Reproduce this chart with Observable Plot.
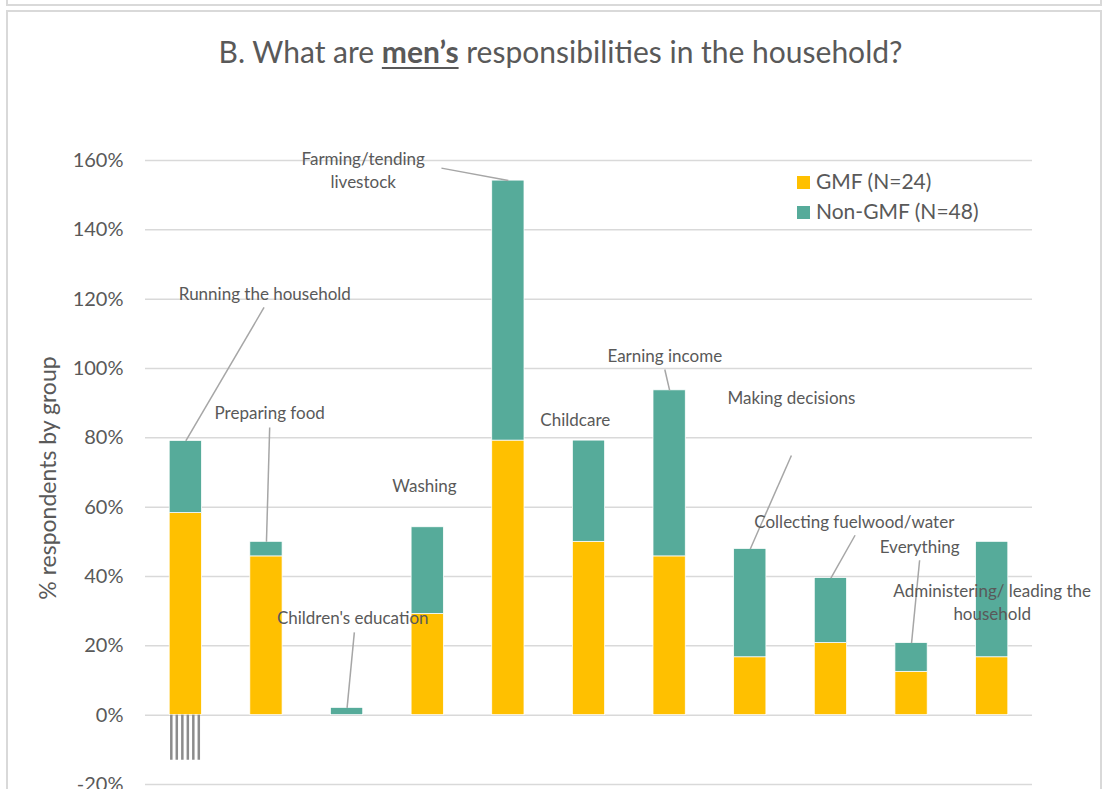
<!DOCTYPE html>
<html><head><meta charset="utf-8">
<script src="https://cdn.jsdelivr.net/npm/d3@7"></script>
<script src="https://cdn.jsdelivr.net/npm/@observablehq/plot@0.6"></script>
<style>
body{margin:0;background:#fff;font-family:Lato,"Open Sans",sans-serif;}
#wrap{position:relative;width:1103px;height:789px;overflow:hidden;background:#fff;}
.box{position:absolute;border:2px solid #d9d9d9;box-sizing:border-box;}
#title{position:absolute;left:0;top:31px;width:1103px;padding-left:18px;box-sizing:border-box;text-align:center;font-size:30px;line-height:40px;color:#595959;white-space:nowrap;}
#title u{text-decoration-thickness:2px;text-underline-offset:4px;}
#legend{position:absolute;left:797px;top:166px;font-size:21px;color:#595959;line-height:30px;}
#legend .sw{display:inline-block;width:13px;height:13px;margin-right:6px;vertical-align:0px;}
#ylabel{position:absolute;left:47px;top:478px;transform:translate(-50%,-50%) rotate(-90deg);font-size:23px;color:#595959;white-space:nowrap;}
#chart{position:absolute;left:0;top:0;}
</style>
</head><body>
<div id="wrap">
  <div class="box" style="left:6px;top:-100px;width:1096px;height:106px;"></div>
  <div class="box" style="left:6px;top:10px;width:1096px;height:900px;"></div>
  <div id="chart"></div>
  <div id="title">B. What are <u><b>men’s</b></u> responsibilities in the household?</div>
  <div id="legend"></div>
  <div id="ylabel"></div>
</div>
<script>
// ---- data ----
const categories = [
  "Running the household", "Preparing food", "Children's education", "Washing",
  "Farming/tending livestock", "Childcare", "Earning income", "Making decisions",
  "Collecting fuelwood/water", "Everything", "Administering/ leading the household"
];
const series = ["GMF (N=24)", "Non-GMF (N=48)"];
const gmfValues    = [58.3, 45.8, 0,   29.2, 79.2, 50.0, 45.8, 16.7, 20.8, 12.5, 16.7];
const nonGmfValues = [20.8,  4.2, 2.1, 25.0, 75.0, 29.2, 47.9, 31.25, 18.75, 8.3, 33.3];
const yTicks = [-20, 0, 20, 40, 60, 80, 100, 120, 140, 160];
const colors = ["#FFC000", "#56AB9A"];
const yLabel = "% respondents by group";

// stray hatch below the first bar (as in the source image)
const hatchOffsets = [-0.18, -0.112, -0.043, 0.025, 0.093, 0.161];
const hatchDepth = -13;

// data label annotations: category index, label offset (in category steps), label y, leader start
const annotations = [
  {text: "Running the household", cat: 0, off: 0.98, y: 121.9, lead: [0.97, 117.6]},
  {text: "Preparing food", cat: 1, off: 0.04, y: 87.6, lead: [0.04, 83.0]},
  {text: "Children's education", cat: 2, off: 0.07, y: 28.5, lead: [0.09, 23.9]},
  {text: "Washing", cat: 3, off: -0.04, y: 66.6, lead: null},
  {text: "Farming/tending\nlivestock", cat: 4, off: -1.80, y: 157.5, lead: [-0.83, 157.8]},
  {text: "Childcare", cat: 5, off: -0.17, y: 85.6, lead: null},
  {text: "Earning income", cat: 6, off: -0.06, y: 104.1, lead: [-0.06, 99.7]},
  {text: "Making decisions", cat: 7, off: 0.51, y: 92.0, lead: [0.51, 74.9]},
  {text: "Collecting fuelwood/water", cat: 8, off: 0.29, y: 56.2, lead: [0.30, 51.9]},
  {text: "Everything", cat: 9, off: 0.10, y: 49.0, lead: [0.10, 44.7]},
  {text: "Administering/ leading the\nhousehold", cat: 10, off: 0.0, y: 33.0, lead: null}
];

// ---- build table ----
const rows = [];
categories.forEach((c, i) => {
  rows.push({i, cat: c, group: series[0], y1: 0, y2: gmfValues[i]});
  rows.push({i, cat: c, group: series[1], y1: gmfValues[i], y2: gmfValues[i] + nonGmfValues[i]});
});
const totals = categories.map((c, i) => gmfValues[i] + nonGmfValues[i]);
const leaders = annotations.filter(a => a.lead).map(a => ({
  x1: a.cat + a.lead[0], y1: a.lead[1], x2: a.cat, y2: totals[a.cat]
}));

const txt = "#595959";
const chart = Plot.plot({
  width: 1103, height: 789,
  marginLeft: 145, marginRight: 71, marginTop: 160, marginBottom: 5,
  x: {type: "linear", domain: [-0.5, 10.5], axis: null},
  y: {domain: [-20, 160], axis: null},
  color: {domain: series, range: colors},
  style: {fontFamily: "Lato, 'Open Sans', sans-serif", color: txt, background: "transparent", overflow: "visible"},
  marks: [
    Plot.gridY(yTicks, {stroke: "#d9d9d9", strokeOpacity: 1, strokeWidth: 1.5}),
    Plot.axisY(yTicks, {tickSize: 0, tickPadding: 22, tickFormat: d => d + "%", fontSize: 20, fill: txt, label: null}),
    Plot.rectY(rows, {x1: d => d.i - 0.2, x2: d => d.i + 0.2, y1: "y1", y2: "y2", fill: "group", stroke: "white", strokeWidth: 0.75}),
    Plot.ruleX(hatchOffsets, {x: d => d, y1: 0, y2: hatchDepth, stroke: "#8c8c8c", strokeWidth: 2.5}),
    Plot.link(leaders, {x1: "x1", y1: "y1", x2: "x2", y2: "y2", stroke: "#a6a6a6", strokeWidth: 1.5}),
    Plot.text(annotations, {x: d => d.cat + d.off, y: "y", text: "text", fontSize: 17, fill: txt, lineAnchor: "middle", lineHeight: 1.35})
  ]
});
document.getElementById("chart").appendChild(chart);

document.getElementById("ylabel").textContent = yLabel;
const legend = document.getElementById("legend");
series.forEach((s, k) => {
  const row = document.createElement("div");
  row.innerHTML = `<span class="sw" style="background:${colors[k]}"></span>${s}`;
  legend.appendChild(row);
});
</script>
</body></html>
